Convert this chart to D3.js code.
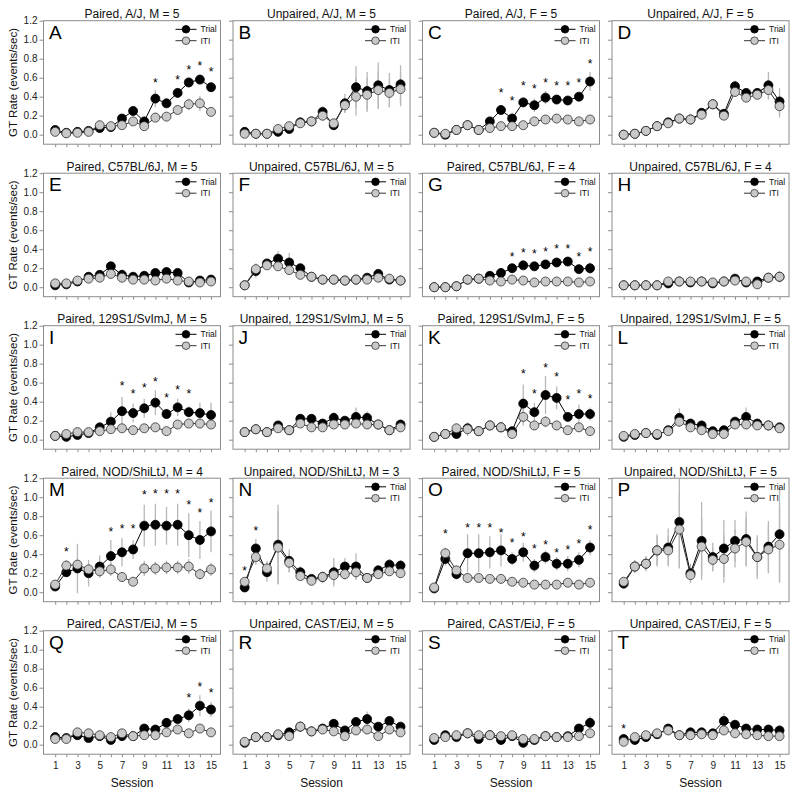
<!DOCTYPE html>
<html><head><meta charset="utf-8">
<script src="https://cdn.jsdelivr.net/npm/d3@7"></script>
<style>body{margin:0;background:#fff}svg{display:block}text{font-family:"Liberation Sans",Arial,sans-serif}.star{opacity:0.999}</style>
</head><body><svg id="chart" width="800" height="797"></svg>
<script>
const sessions = [1,2,3,4,5,6,7,8,9,10,11,12,13,14,15];
const xTickLabels = [1,3,5,7,9,11,13,15];
const yTicks = [0,0.2,0.4,0.6,0.8,1.0,1.2];
const seriesNames = ["Trial","ITI"];
const panelLetters = ["A","B","C","D","E","F","G","H","I","J","K","L","M","N","O","P","Q","R","S","T"];
const panelTitles = [
 "Paired, A/J, M = 5","Unpaired, A/J, M = 5","Paired, A/J, F = 5","Unpaired, A/J, F = 5",
 "Paired, C57BL/6J, M = 5","Unpaired, C57BL/6J, M = 5","Paired, C57BL/6J, F = 4","Unpaired, C57BL/6J, F = 4",
 "Paired, 129S1/SvImJ, M = 5","Unpaired, 129S1/SvImJ, M = 5","Paired, 129S1/SvImJ, F = 5","Unpaired, 129S1/SvImJ, F = 5",
 "Paired, NOD/ShiLtJ, M = 4","Unpaired, NOD/ShiLtJ, M = 3","Paired, NOD/ShiLtJ, F = 5","Unpaired, NOD/ShiLtJ, F = 5",
 "Paired, CAST/EiJ, M = 5","Unpaired, CAST/EiJ, M = 5","Paired, CAST/EiJ, F = 5","Unpaired, CAST/EiJ, F = 5"];
// panels that show the Trial/ITI legend (M has none)
const hasLegend = [1,1,1,1, 1,1,1,1, 1,1,1,1, 0,1,1,1, 1,1,1,1];

const trial = [
 [0.05,0.02,0.03,0.04,0.07,0.08,0.17,0.25,0.14,0.38,0.33,0.44,0.55,0.58,0.50],
 [0.03,0.01,0.01,0.03,0.06,0.13,0.14,0.24,0.10,0.33,0.50,0.46,0.52,0.47,0.53],
 [0.02,0.00,0.05,0.10,0.05,0.14,0.26,0.17,0.34,0.31,0.39,0.37,0.36,0.40,0.56],
 [0.00,0.01,0.04,0.09,0.13,0.17,0.16,0.23,0.32,0.22,0.51,0.44,0.44,0.52,0.35],
 [0.02,0.03,0.06,0.11,0.13,0.22,0.13,0.11,0.12,0.15,0.16,0.15,0.05,0.07,0.08],
 [0.02,0.17,0.25,0.30,0.26,0.20,0.11,0.08,0.08,0.07,0.08,0.10,0.14,0.08,0.07],
 [0.00,0.00,0.01,0.08,0.09,0.12,0.15,0.20,0.23,0.22,0.24,0.26,0.27,0.19,0.20],
 [0.02,0.02,0.02,0.02,0.04,0.06,0.05,0.06,0.04,0.06,0.09,0.05,0.06,0.10,0.11],
 [0.04,0.03,0.05,0.07,0.13,0.19,0.30,0.28,0.33,0.39,0.27,0.34,0.29,0.28,0.26],
 [0.08,0.11,0.08,0.15,0.10,0.22,0.22,0.17,0.23,0.20,0.24,0.23,0.16,0.10,0.16],
 [0.03,0.06,0.06,0.12,0.09,0.15,0.13,0.09,0.38,0.29,0.47,0.44,0.24,0.27,0.27],
 [0.03,0.05,0.07,0.05,0.10,0.23,0.17,0.15,0.09,0.10,0.19,0.24,0.17,0.15,0.13],
 [0.06,0.21,0.25,0.20,0.27,0.38,0.42,0.45,0.70,0.71,0.70,0.71,0.60,0.55,0.64],
 [0.05,0.46,0.21,0.50,0.33,0.21,0.14,0.16,0.21,0.27,0.27,0.15,0.23,0.29,0.28],
 [0.04,0.35,0.19,0.41,0.41,0.42,0.44,0.35,0.42,0.28,0.37,0.30,0.30,0.34,0.47],
 [0.09,0.27,0.30,0.44,0.47,0.74,0.20,0.54,0.37,0.46,0.54,0.56,0.37,0.48,0.61],
 [0.08,0.07,0.10,0.07,0.09,0.05,0.09,0.09,0.17,0.16,0.23,0.27,0.31,0.41,0.37],
 [0.02,0.08,0.08,0.10,0.13,0.19,0.14,0.17,0.22,0.15,0.24,0.27,0.19,0.25,0.19],
 [0.05,0.10,0.08,0.12,0.06,0.10,0.05,0.09,0.02,0.05,0.09,0.08,0.09,0.17,0.23],
 [0.06,0.05,0.08,0.11,0.17,0.10,0.13,0.13,0.12,0.25,0.21,0.17,0.16,0.16,0.15]];

const iti = [
 [0.03,0.015,0.02,0.03,0.10,0.09,0.10,0.14,0.09,0.18,0.19,0.26,0.32,0.33,0.24],
 [0.01,0.01,0.01,0.06,0.09,0.12,0.14,0.20,0.12,0.31,0.40,0.42,0.47,0.44,0.48],
 [0.02,0.01,0.05,0.10,0.05,0.07,0.09,0.09,0.10,0.14,0.16,0.17,0.16,0.14,0.16],
 [0.00,0.01,0.04,0.09,0.12,0.17,0.16,0.21,0.32,0.20,0.45,0.39,0.42,0.47,0.30],
 [0.04,0.04,0.07,0.09,0.10,0.14,0.10,0.08,0.08,0.07,0.09,0.07,0.06,0.05,0.06],
 [0.02,0.19,0.23,0.22,0.18,0.13,0.11,0.08,0.08,0.07,0.08,0.08,0.10,0.09,0.07],
 [0.00,0.00,0.01,0.08,0.09,0.07,0.06,0.08,0.07,0.05,0.06,0.06,0.06,0.05,0.06],
 [0.02,0.02,0.02,0.02,0.06,0.06,0.06,0.06,0.05,0.06,0.07,0.06,0.03,0.10,0.11],
 [0.04,0.06,0.08,0.08,0.09,0.11,0.12,0.10,0.12,0.13,0.09,0.16,0.17,0.17,0.16],
 [0.08,0.11,0.08,0.12,0.10,0.17,0.13,0.13,0.16,0.16,0.17,0.16,0.16,0.10,0.13],
 [0.03,0.06,0.12,0.11,0.09,0.15,0.13,0.06,0.24,0.15,0.19,0.15,0.10,0.13,0.09],
 [0.04,0.06,0.07,0.06,0.09,0.19,0.13,0.10,0.06,0.06,0.16,0.16,0.15,0.15,0.12],
 [0.08,0.28,0.29,0.24,0.22,0.24,0.16,0.11,0.25,0.25,0.26,0.26,0.27,0.19,0.24],
 [0.11,0.37,0.25,0.47,0.31,0.17,0.12,0.16,0.18,0.19,0.21,0.15,0.19,0.22,0.20],
 [0.05,0.41,0.23,0.15,0.15,0.14,0.14,0.11,0.10,0.08,0.08,0.08,0.10,0.08,0.10],
 [0.11,0.27,0.30,0.44,0.44,0.66,0.18,0.48,0.34,0.35,0.46,0.53,0.37,0.45,0.50],
 [0.06,0.06,0.13,0.12,0.10,0.08,0.12,0.09,0.10,0.10,0.13,0.16,0.12,0.17,0.13],
 [0.03,0.08,0.08,0.11,0.09,0.19,0.14,0.16,0.14,0.09,0.15,0.16,0.09,0.16,0.13],
 [0.07,0.08,0.10,0.12,0.10,0.10,0.09,0.10,0.06,0.06,0.09,0.08,0.08,0.09,0.12],
 [0.03,0.08,0.10,0.12,0.15,0.10,0.10,0.11,0.10,0.15,0.12,0.11,0.10,0.09,0.09]];

const trialErr = [
 [0.02,0.01,0.01,0.02,0.02,0.02,0.03,0.05,0.04,0.09,0.05,0.05,0.05,0.05,0.04],
 [0.02,0.01,0.01,0.02,0.02,0.03,0.03,0.06,0.05,0.10,0.22,0.20,0.24,0.18,0.20],
 [0.02,0.01,0.02,0.04,0.02,0.03,0.05,0.06,0.05,0.07,0.07,0.04,0.04,0.04,0.10],
 [0.01,0.01,0.02,0.02,0.02,0.03,0.02,0.02,0.03,0.03,0.06,0.05,0.05,0.14,0.14],
 [0.01,0.01,0.02,0.02,0.02,0.03,0.06,0.02,0.02,0.03,0.02,0.02,0.02,0.02,0.02],
 [0.01,0.07,0.04,0.08,0.10,0.04,0.02,0.02,0.02,0.02,0.02,0.02,0.02,0.02,0.02],
 [0.01,0.01,0.01,0.02,0.02,0.02,0.05,0.03,0.03,0.03,0.03,0.03,0.03,0.03,0.06],
 [0.01,0.01,0.01,0.01,0.02,0.02,0.02,0.02,0.02,0.02,0.04,0.02,0.02,0.04,0.06],
 [0.01,0.01,0.02,0.02,0.03,0.10,0.15,0.10,0.10,0.13,0.05,0.09,0.06,0.11,0.13],
 [0.01,0.02,0.01,0.02,0.02,0.05,0.03,0.03,0.06,0.04,0.10,0.07,0.03,0.02,0.05],
 [0.01,0.02,0.02,0.06,0.03,0.04,0.04,0.03,0.20,0.10,0.20,0.12,0.04,0.10,0.07],
 [0.01,0.01,0.01,0.01,0.03,0.10,0.05,0.03,0.03,0.03,0.05,0.10,0.03,0.03,0.03],
 [0.02,0.05,0.26,0.14,0.12,0.17,0.15,0.10,0.22,0.22,0.20,0.22,0.23,0.20,0.22],
 [0.02,0.10,0.10,0.42,0.12,0.06,0.03,0.06,0.15,0.09,0.14,0.03,0.05,0.06,0.06],
 [0.02,0.07,0.05,0.20,0.20,0.17,0.17,0.07,0.10,0.07,0.07,0.07,0.08,0.08,0.08],
 [0.02,0.07,0.08,0.17,0.20,0.49,0.10,0.41,0.15,0.30,0.22,0.29,0.23,0.27,0.50],
 [0.02,0.02,0.02,0.02,0.02,0.02,0.02,0.02,0.03,0.04,0.05,0.05,0.07,0.11,0.08],
 [0.01,0.01,0.02,0.02,0.02,0.05,0.02,0.03,0.04,0.03,0.04,0.08,0.03,0.04,0.04],
 [0.01,0.02,0.02,0.02,0.02,0.02,0.02,0.02,0.02,0.02,0.02,0.02,0.02,0.04,0.07],
 [0.02,0.01,0.02,0.02,0.04,0.02,0.02,0.02,0.02,0.08,0.03,0.02,0.02,0.02,0.02]];

const itiErr = [
 [0.01,0.01,0.01,0.01,0.03,0.02,0.03,0.03,0.03,0.05,0.03,0.04,0.06,0.08,0.04],
 [0.01,0.01,0.01,0.02,0.02,0.03,0.03,0.05,0.04,0.08,0.20,0.18,0.20,0.15,0.18],
 [0.01,0.01,0.02,0.04,0.02,0.02,0.02,0.02,0.02,0.02,0.03,0.02,0.02,0.02,0.02],
 [0.01,0.01,0.02,0.02,0.02,0.03,0.02,0.02,0.03,0.03,0.05,0.04,0.04,0.10,0.12],
 [0.01,0.01,0.01,0.02,0.02,0.03,0.03,0.02,0.02,0.02,0.02,0.02,0.02,0.02,0.02],
 [0.01,0.06,0.03,0.04,0.05,0.03,0.02,0.02,0.02,0.02,0.02,0.02,0.02,0.02,0.02],
 [0.01,0.01,0.01,0.02,0.02,0.02,0.02,0.02,0.02,0.02,0.02,0.02,0.02,0.02,0.02],
 [0.01,0.01,0.01,0.01,0.02,0.02,0.02,0.02,0.02,0.02,0.03,0.02,0.02,0.03,0.05],
 [0.01,0.02,0.02,0.02,0.02,0.03,0.04,0.03,0.04,0.04,0.02,0.04,0.04,0.05,0.04],
 [0.01,0.02,0.01,0.02,0.02,0.03,0.03,0.03,0.03,0.03,0.04,0.03,0.03,0.02,0.03],
 [0.01,0.02,0.05,0.07,0.03,0.04,0.04,0.02,0.09,0.05,0.06,0.05,0.03,0.05,0.03],
 [0.01,0.01,0.01,0.01,0.02,0.05,0.04,0.03,0.02,0.02,0.04,0.05,0.03,0.03,0.03],
 [0.02,0.06,0.08,0.06,0.06,0.07,0.05,0.03,0.08,0.07,0.07,0.07,0.08,0.06,0.07],
 [0.02,0.08,0.08,0.38,0.10,0.04,0.03,0.06,0.10,0.06,0.08,0.03,0.04,0.05,0.05],
 [0.02,0.06,0.04,0.05,0.04,0.04,0.04,0.03,0.03,0.03,0.03,0.03,0.03,0.03,0.03],
 [0.02,0.06,0.07,0.15,0.15,0.40,0.08,0.30,0.12,0.25,0.20,0.25,0.20,0.25,0.40],
 [0.01,0.01,0.02,0.02,0.02,0.02,0.02,0.02,0.02,0.02,0.03,0.03,0.03,0.03,0.03],
 [0.01,0.01,0.02,0.02,0.02,0.04,0.02,0.03,0.03,0.03,0.03,0.05,0.03,0.03,0.03],
 [0.01,0.02,0.02,0.02,0.02,0.02,0.02,0.02,0.02,0.02,0.02,0.02,0.02,0.02,0.03],
 [0.01,0.01,0.02,0.02,0.04,0.02,0.02,0.02,0.02,0.04,0.02,0.02,0.02,0.02,0.02]];

// significance asterisks: [session, height]
const stars = [
 [[10,0.58],[12,0.61],[13,0.71],[14,0.75],[15,0.69]],
 [],
 [[7,0.47],[8,0.39],[9,0.54],[10,0.51],[11,0.58],[12,0.54],[13,0.54],[14,0.58],[15,0.78]],
 [],
 [],[],
 [[8,0.35],[9,0.39],[10,0.38],[11,0.40],[12,0.43],[13,0.43],[14,0.35],[15,0.40]],
 [],
 [[7,0.60],[8,0.51],[9,0.58],[10,0.64],[11,0.47],[12,0.55],[13,0.51]],
 [],
 [[9,0.72],[10,0.51],[11,0.79],[12,0.69],[13,0.45],[14,0.51],[15,0.46]],
 [],
 [[2,0.45],[6,0.67],[7,0.70],[8,0.70],[9,1.06],[10,1.07],[11,1.07],[12,1.07],[13,0.95],[14,0.87],[15,0.97]],
 [[1,0.26],[2,0.68]],
 [[2,0.64],[4,0.71],[5,0.71],[6,0.71],[7,0.66],[8,0.55],[9,0.61],[10,0.49],[11,0.53],[12,0.44],[13,0.48],[14,0.54],[15,0.69]],
 [],
 [[13,0.52],[14,0.64],[15,0.58]],
 [],[],
 [[1,0.20]]];

const svg = d3.select("#chart");
const colLeft = 43.5, colStep = 189.5, pw = 177;
const rowTop = 20.7, rowStep = 152.5, ph = 123.5;
const frameColor = "#8c8c8c";
const errColor = "#b8b8b8";
const itiFill = "#c8c8c8";

panelLetters.forEach((letter, i) => {
  const col = i % 4, row = Math.floor(i / 4);
  const left = colLeft + col * colStep, top = rowTop + row * rowStep;
  const x = d3.scaleLinear().domain([-0.05, 15.85]).range([left, left + pw]);
  const y = d3.scaleLinear().domain([-0.1, 1.2]).range([top + ph, top]);
  const g = svg.append("g");

  g.append("text").attr("x", left + pw / 2).attr("y", top - 2.5)
    .attr("text-anchor", "middle").attr("font-size", 12).attr("fill", "#111").text(panelTitles[i]);

  const yAxis = d3.axisLeft(y).tickValues(yTicks).tickSize(4).tickPadding(2)
    .tickFormat(col === 0 ? d3.format(".1f") : () => "");
  const ya = g.append("g").attr("transform", `translate(${left},0)`).call(yAxis);
  ya.select(".domain").remove();
  ya.selectAll("line").attr("stroke", frameColor);
  ya.selectAll("text").attr("font-size", 10).attr("fill", "#222").attr("font-family", "Liberation Sans, Arial, sans-serif");

  const xAxis = d3.axisBottom(x).tickValues(sessions).tickSize(3).tickPadding(5)
    .tickFormat(d => (row === 4 && xTickLabels.includes(d)) ? d : "");
  const xa = g.append("g").attr("transform", `translate(0,${top + ph})`).call(xAxis);
  xa.select(".domain").remove();
  xa.selectAll("line").attr("stroke", frameColor);
  xa.selectAll("text").attr("font-size", 10).attr("fill", "#222").attr("font-family", "Liberation Sans, Arial, sans-serif");

  g.append("rect").attr("x", left).attr("y", top).attr("width", pw).attr("height", ph)
    .attr("fill", "none").attr("stroke", frameColor).attr("stroke-width", 1);

  const clipId = "clip" + i;
  g.append("clipPath").attr("id", clipId).append("rect")
    .attr("x", left).attr("y", top).attr("width", pw).attr("height", ph);
  const pg = g.append("g").attr("clip-path", `url(#${clipId})`);

  const tr = trial[i], it = iti[i], te = trialErr[i], ie = itiErr[i];
  [[tr, te], [it, ie]].forEach(([vals, errs]) => {
    pg.selectAll(null).data(sessions).enter().append("line")
      .attr("x1", d => x(d)).attr("x2", d => x(d))
      .attr("y1", (d, k) => y(vals[k] + errs[k])).attr("y2", (d, k) => y(vals[k] - errs[k]))
      .attr("stroke", errColor).attr("stroke-width", 1.3);
  });

  const line = d3.line().x((d, k) => x(sessions[k])).y(d => y(d));
  pg.append("path").datum(tr).attr("d", line).attr("fill", "none").attr("stroke", "#000").attr("stroke-width", 1);
  pg.selectAll(null).data(tr).enter().append("circle")
    .attr("cx", (d, k) => x(sessions[k])).attr("cy", d => y(d)).attr("r", 4.5)
    .attr("fill", "#000").attr("stroke", "#000").attr("stroke-width", 0.8);
  pg.append("path").datum(it).attr("d", line).attr("fill", "none").attr("stroke", "#333").attr("stroke-width", 1);
  pg.selectAll(null).data(it).enter().append("circle")
    .attr("cx", (d, k) => x(sessions[k])).attr("cy", d => y(d)).attr("r", 4.5)
    .attr("fill", itiFill).attr("stroke", "#333").attr("stroke-width", 0.8);

  g.append("g").attr("class", "star").selectAll(null).data(stars[i]).enter().append("text")
    .attr("x", d => x(d[0])).attr("y", d => y(d[1]) + 7)
    .attr("text-anchor", "middle").attr("font-size", 12).attr("fill", "#000").text("*");

  g.append("text").attr("x", left + 5.5).attr("y", top + 18).attr("font-size", 19)
    .attr("fill", "#000").text(letter);

  if (hasLegend[i]) {
    const right = left + pw;
    seriesNames.forEach((name, s) => {
      const ly = top + 8.6 + s * 11.4;
      g.append("line").attr("x1", right - 45).attr("x2", right - 24).attr("y1", ly).attr("y2", ly)
        .attr("stroke", s === 0 ? "#000" : "#333").attr("stroke-width", 1);
      g.append("circle").attr("cx", right - 34.5).attr("cy", ly).attr("r", 3.8)
        .attr("fill", s === 0 ? "#000" : itiFill).attr("stroke", s === 0 ? "#000" : "#333").attr("stroke-width", 0.8);
      g.append("text").attr("x", right - 20).attr("y", ly + 3).attr("font-size", 8.5)
        .attr("fill", "#111").text(name);
    });
  }

  if (col === 0) {
    g.append("text").attr("transform", `translate(17,${top + ph / 2}) rotate(-90)`)
      .attr("text-anchor", "middle").attr("font-size", 11.5).attr("fill", "#111").text("GT Rate (events/sec)");
  }
  if (row === 4) {
    g.append("text").attr("x", left + pw / 2).attr("y", top + ph + 32.5)
      .attr("text-anchor", "middle").attr("font-size", 12).attr("fill", "#111").text("Session");
  }
});
</script></body></html>
